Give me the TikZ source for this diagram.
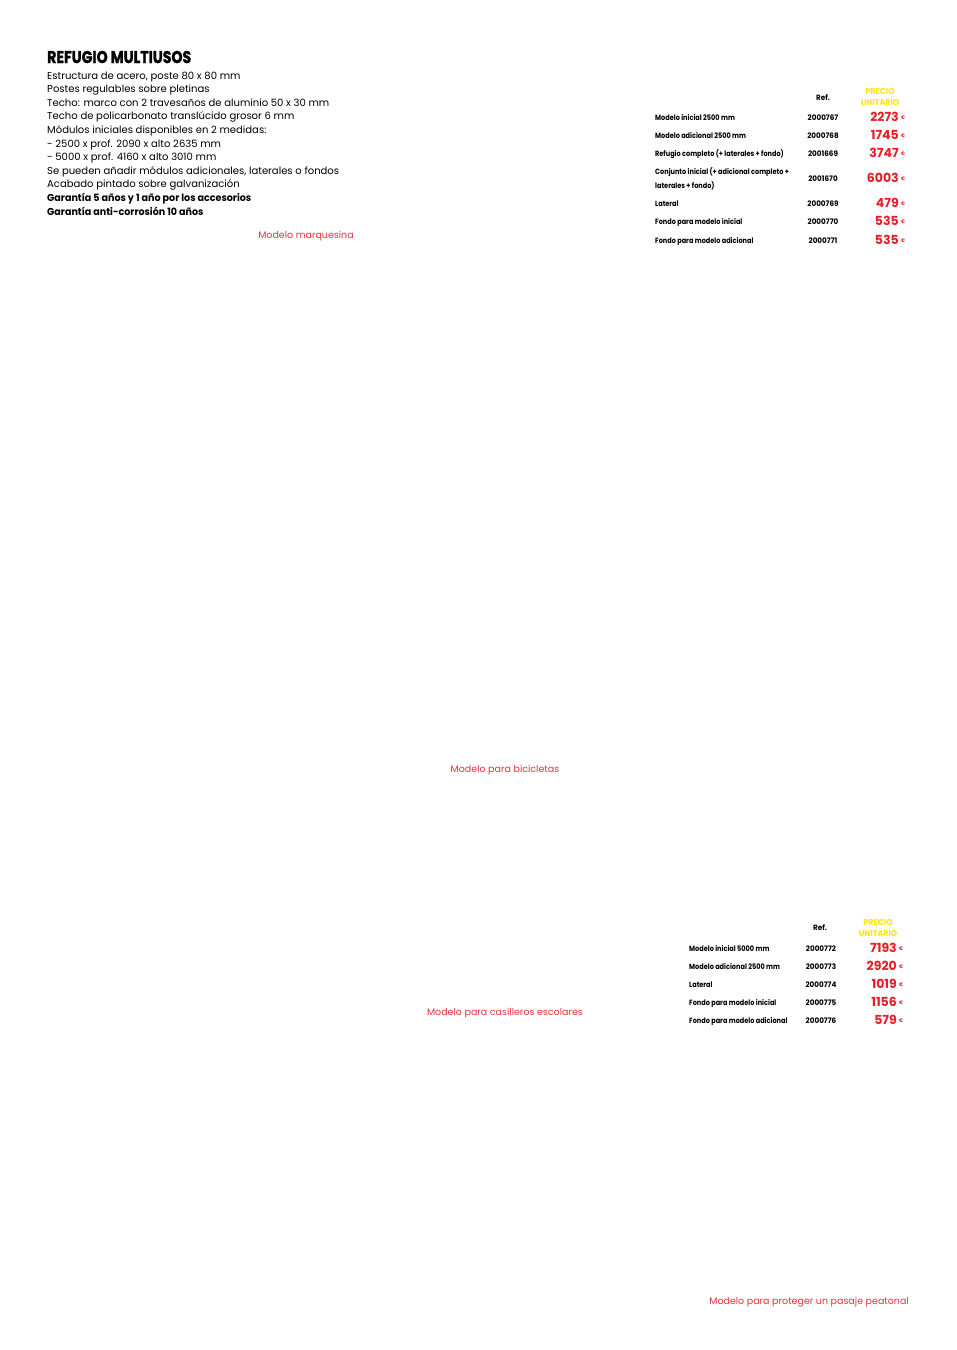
\documentclass[tikz,border=0pt]{standalone}
\usepackage{fontspec}
\setmainfont{Poppins}
\newfontfamily\heavyfont[BoldFeatures={FakeBold=1.6}]{Poppins}
\definecolor{capred}{HTML}{E8323C}
\definecolor{pricered}{HTML}{E61E28}
\definecolor{headyellow}{HTML}{FFE600}
\newcommand{\narrow}[2]{\scalebox{#1}[1]{#2}}

\tikzset{
  body/.style={anchor=base west, inner sep=0pt, font=\fontsize{10.05}{13.6}\selectfont},
  caption/.style={anchor=base, inner sep=0pt, text=capred, font=\fontsize{9.5}{12}\selectfont},
  cell/.style={anchor=base west, inner sep=0pt, font=\fontsize{7.6}{13}\bfseries\selectfont},
  refcell/.style={anchor=base, inner sep=0pt, font=\fontsize{7.6}{9}\bfseries\selectfont},
  price/.style={anchor=base east, inner sep=0pt, text=pricered, font=\fontsize{12.5}{14}\bfseries\selectfont},
  euro/.style={anchor=base west, inner sep=0pt, text=pricered, font=\fontsize{5}{6}\bfseries\selectfont},
  head/.style={anchor=base, inner sep=0pt, text=headyellow, font=\fontsize{8.4}{10.5}\bfseries\selectfont}
}

\begin{document}
\begin{tikzpicture}[x=1pt,y=-1pt]
  \useasboundingbox[fill=white] (0,0) rectangle (957,1350);

  % description
  \node[anchor=base west, inner sep=0pt, font=\fontsize{17}{19}\heavyfont\bfseries\selectfont] (title) at (47,63) {\narrow{0.83}{REFUGIO MULTIUSOS}};
  \node[body] (d1) at (47,79) {Estructura de acero, poste 80 x 80 mm};
  \node[body] (d2) at (47,92.6) {Postes regulables sobre pletinas};
  \node[body] (d3) at (47,106.2) {Techo: marco con 2 travesaños de aluminio 50 x 30 mm};
  \node[body] (d4) at (47,119.8) {Techo de policarbonato translúcido grosor 6 mm};
  \node[body] (d5) at (47,133.4) {Módulos iniciales disponibles en 2 medidas:};
  \node[body] (d6) at (47,147) {- 2500 x prof. 2090 x alto 2635 mm};
  \node[body] (d7) at (47,160.6) {- 5000 x prof. 4160 x alto 3010 mm};
  \node[body] (d8) at (47,174.2) {Se pueden añadir módulos adicionales, laterales o fondos};
  \node[body] (d9) at (47,187.8) {Acabado pintado sobre galvanización};
  \node[body, font=\fontsize{10.05}{13.6}\bfseries\selectfont] (d10) at (47,201.4) {\narrow{0.95}{Garantía 5 años y 1 año por los accesorios}};
  \node[body, font=\fontsize{10.05}{13.6}\bfseries\selectfont] (d11) at (47,215) {\narrow{0.95}{Garantía anti-corrosión 10 años}};

  \node[caption] (cap1) at (306,238) {Modelo marquesina};

  % first price table
  \node[refcell] (r1h) at (823,100) {\narrow{0.95}{Ref.}};
  \node[head] (p1h) at (880,94.3) {\narrow{0.95}{PRECIO}};
  \node[head] (p1u) at (880,105) {\narrow{0.95}{UNITARIO}};

  \node[cell] (a1) at (655,120) {\narrow{0.86}{Modelo inicial 2500 mm}};
  \node[refcell] (b1) at (823,120) {\narrow{0.95}{2000767}};
  \node[price] (c1) at (899,121.5) {2273};
  \node[euro] (e1) at (901,119.5) {€};

  \node[cell] (a2) at (655,138) {\narrow{0.86}{Modelo adicional 2500 mm}};
  \node[refcell] (b2) at (823,138) {\narrow{0.95}{2000768}};
  \node[price] (c2) at (899,139.5) {1745};
  \node[euro] (e2) at (901,137.5) {€};

  \node[cell] (a3) at (655,156) {\narrow{0.86}{Refugio completo (+ laterales + fondo)}};
  \node[refcell] (b3) at (823,156) {\narrow{0.95}{2001669}};
  \node[price] (c3) at (899,157.5) {3747};
  \node[euro] (e3) at (901,155.5) {€};

  \node[cell] (a4) at (655,174) {\narrow{0.86}{Conjunto inicial (+ adicional completo +}};
  \node[cell] (a4b) at (655,188) {\narrow{0.86}{laterales + fondo)}};
  \node[refcell] (b4) at (823,181) {\narrow{0.95}{2001670}};
  \node[price] (c4) at (899,182.5) {6003};
  \node[euro] (e4) at (901,180.5) {€};

  \node[cell] (a5) at (655,206) {\narrow{0.86}{Lateral}};
  \node[refcell] (b5) at (823,206) {\narrow{0.95}{2000769}};
  \node[price] (c5) at (899,207.5) {479};
  \node[euro] (e5) at (901,205.5) {€};

  \node[cell] (a6) at (655,224) {\narrow{0.86}{Fondo para modelo inicial}};
  \node[refcell] (b6) at (823,224) {\narrow{0.95}{2000770}};
  \node[price] (c6) at (899,225.5) {535};
  \node[euro] (e6) at (901,223.5) {€};

  \node[cell] (a7) at (655,243) {\narrow{0.86}{Fondo para modelo adicional}};
  \node[refcell] (b7) at (823,243) {\narrow{0.95}{2000771}};
  \node[price] (c7) at (899,244.5) {535};
  \node[euro] (e7) at (901,242.5) {€};

  \node[caption] (cap2) at (505,772) {Modelo para bicicletas};

  % second price table
  \node[refcell] (r2h) at (820,930.5) {\narrow{0.95}{Ref.}};
  \node[head] (p2h) at (878,925.3) {\narrow{0.95}{PRECIO}};
  \node[head] (p2u) at (878,936) {\narrow{0.95}{UNITARIO}};

  \node[cell] (f1) at (689,951) {\narrow{0.86}{Modelo inicial 5000 mm}};
  \node[refcell] (g1) at (821,951) {\narrow{0.95}{2000772}};
  \node[price] (h1) at (897,952.5) {7193};
  \node[euro] (k1) at (899,950.5) {€};

  \node[cell] (f2) at (689,969) {\narrow{0.86}{Modelo adicional 2500 mm}};
  \node[refcell] (g2) at (821,969) {\narrow{0.95}{2000773}};
  \node[price] (h2) at (897,970.5) {2920};
  \node[euro] (k2) at (899,968.5) {€};

  \node[cell] (f3) at (689,987) {\narrow{0.86}{Lateral}};
  \node[refcell] (g3) at (821,987) {\narrow{0.95}{2000774}};
  \node[price] (h3) at (897,988.5) {1019};
  \node[euro] (k3) at (899,986.5) {€};

  \node[cell] (f4) at (689,1005) {\narrow{0.86}{Fondo para modelo inicial}};
  \node[refcell] (g4) at (821,1005) {\narrow{0.95}{2000775}};
  \node[price] (h4) at (897,1006.5) {1156};
  \node[euro] (k4) at (899,1004.5) {€};

  \node[cell] (f5) at (689,1023) {\narrow{0.86}{Fondo para modelo adicional}};
  \node[refcell] (g5) at (821,1023) {\narrow{0.95}{2000776}};
  \node[price] (h5) at (897,1024.5) {579};
  \node[euro] (k5) at (899,1022.5) {€};

  \node[caption] (cap3) at (505,1015) {Modelo para casilleros escolares};
  \node[caption, anchor=base east] (cap4) at (909,1304) {Modelo para proteger un pasaje peatonal};
\end{tikzpicture}
\end{document}
